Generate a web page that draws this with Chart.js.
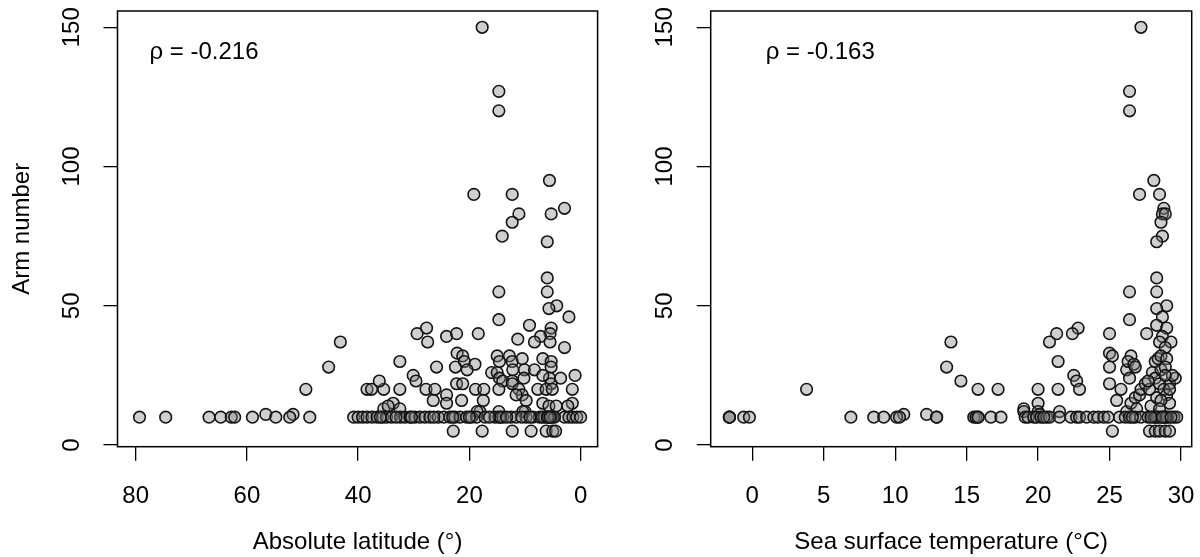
<!DOCTYPE html>
<html>
<head>
<meta charset="utf-8">
<script src="https://cdn.jsdelivr.net/npm/chart.js@4.4.1/dist/chart.umd.min.js"></script>
<style>
  body { margin: 0; background: #fff; }
  canvas { position: absolute; top: 0; }
  #latChart { left: 0; }
  #sstChart { left: 600px; }
</style>
</head>
<body>
<canvas id="latChart" width="605" height="557"></canvas>
<canvas id="sstChart" width="600" height="557"></canvas>
<script>
// --- DATA: left panel (absolute latitude vs arm number) ---
const latitude = [
  17.7, 14.7, 14.7, 5.6, 19.2, 12.3, 2.9, 11.1, 5.3, 12.3, 14.1, 6.0, 6.0, 6.0, 14.7, 4.3, 5.7, 14.7, 2.1, 9.2,
  27.7, 29.4, 24.1, 22.3, 18.4, 27.5, 5.3, 5.5, 7.2, 5.5, 11.3, 8.3, 2.9, 43.2, 45.3, 49.4, 22.2, 21.2, 20.9, 19.0,
  20.4, 22.5, 15.0, 14.6, 12.8, 12.3, 10.5, 16.0, 6.8, 5.3, 5.3, 32.5, 25.9, 30.1, 29.6, 22.3, 21.2, 15.0, 14.6, 14.0,
  12.2, 12.3, 12.3, 10.1, 8.3, 10.2, 5.6, 5.3, 3.6, 1.0, 6.8, 18.9, 17.4, 14.7, 11.1, 7.7, 6.2, 5.1, 1.5, 27.8,
  26.2, 32.5, 38.4, 37.6, 35.4, 36.2, 10.5, 11.6, 24.1, 26.5, 24.1, 21.4, 17.5, 9.8, 6.8, 5.7, 4.4, 1.5, 2.3, 33.7,
  35.4, 34.6, 32.5, 18.1, 14.7, 10.0, 18.6, 10.4, 56.6, 51.7,
  79.3, 74.6, 66.8, 64.7, 62.8, 62.2, 59.0, 54.8, 52.3, 48.7, 40.8, 40.0, 39.2, 38.4, 37.5, 36.6, 35.6, 34.9, 34.0, 32.4,
  31.6, 30.7, 29.8, 28.9, 28.0, 27.1, 25.6, 24.6, 23.5, 22.6, 21.7, 20.5, 19.6, 18.7, 17.2, 15.4, 14.7, 14.0, 12.5, 11.6,
  9.8, 8.6, 7.4, 6.5, 5.6, 5.0, 2.9, 2.1, 1.4, 0.7, 0.0, 14.4, 13.3, 10.6, 9.1, 6.9, 6.0, 5.3, 4.7, 33.2,
  30.4, 26.4, 23.0, 20.0, 16.4, 36.0, 5.9, 5.5,
  22.9, 17.7, 12.3, 8.9, 6.2, 5.0, 4.5
];
const armsLat = [
  150, 127, 120, 95, 90, 90, 85, 83, 83, 80, 75, 73, 60, 55, 55, 50, 49, 45, 46, 43,
  42, 40, 39, 40, 40, 37, 42, 40, 39, 37, 38, 37, 35, 37, 28, 20, 33, 32, 30, 29,
  27, 28, 32, 30, 32, 30, 31, 26, 31, 30, 28, 30, 28, 25, 23, 22, 22, 26, 24, 23,
  27, 23, 22, 27, 27, 24, 24, 22, 24, 25, 25, 20, 20, 20, 20, 20, 20, 20, 20, 20,
  20, 20, 20, 20, 20, 23, 18, 18, 18, 16, 15, 16, 16, 16, 15, 14, 14, 15, 14, 15,
  13, 14, 13, 12, 12, 12, 12, 12, 11, 11,
  10, 10, 10, 10, 10, 10, 10, 10, 10, 10, 10, 10, 10, 10, 10, 10, 10, 10, 10, 10,
  10, 10, 10, 10, 10, 10, 10, 10, 10, 10, 10, 10, 10, 10, 10, 10, 10, 10, 10, 10,
  10, 10, 10, 10, 10, 10, 10, 10, 10, 10, 10, 10, 10, 10, 10, 10, 10, 10, 10, 10,
  10, 10, 10, 10, 10, 10, 10, 10,
  5, 5, 5, 5, 5, 5, 5
];

// --- DATA: right panel (sea surface temperature vs arm number) ---
const sst = [
  27.2, 26.4, 26.4, 28.1, 27.1, 28.5, 28.8, 28.7, 28.9, 28.6, 28.7, 28.3, 28.3, 28.3, 26.4, 29.0, 28.3, 26.4, 28.7, 28.3,
  29.0, 27.6, 28.7, 28.5, 29.3, 28.9, 22.8, 22.4, 21.3, 20.8, 25.0, 13.9, 13.6, 14.6, 15.8, 17.2, 3.8, 21.4, 20.0, 21.4,
  20.0, 19.0, 22.5, 22.7, 22.9, 25.0, 25.2, 25.0, 25.0, 25.5, 25.8, 26.2, 26.5, 26.3, 26.7, 26.4, 26.8, 26.2, 26.5, 26.8,
  27.1, 27.2, 27.5, 26.9, 27.8, 28.0, 28.2, 28.4, 28.6, 29.0, 28.2, 28.6, 28.9, 29.2, 29.6, 29.4, 28.5, 28.8, 29.0, 29.2,
  27.9, 28.3, 28.6, 29.2, 27.7, 28.9, 28.5, 19.0, 20.0, 20.1, 21.5, 10.6, 12.2,
  -1.6, -1.6, -1.6, -0.6, -0.2, 6.9, 8.5, 9.2, 10.1, 10.3, 12.9, 12.9, 15.5, 15.65, 15.8, 15.8, 16.7, 17.4, 19.1, 19.3,
  19.7, 19.9, 20.2, 20.6, 20.8, 21.5, 22.3, 22.7, 22.9, 23.4, 23.9, 24.2, 24.6, 24.9, 25.7, 26.1, 26.4, 26.8, 27.2, 27.7,
  28.1, 28.4, 28.8, 29.1, 29.5, 29.7, 28.3, 28.6, 29.0, 28.9, 28.2, 27.9, 26.6, 20.4, 28.7, 29.3,
  27.8, 28.2, 28.5, 28.9, 29.2, 25.2
];
const armsSst = [
  150, 127, 120, 95, 90, 90, 85, 83, 83, 80, 75, 73, 60, 55, 55, 50, 49, 45, 46, 43,
  42, 40, 39, 37, 37, 35, 42, 40, 40, 37, 40, 37, 28, 23, 20, 20, 20, 30, 20, 20,
  15, 13, 25, 23, 20, 33, 32, 28, 22, 16, 20, 27, 32, 30, 29, 24, 28, 12, 15, 17,
  18, 20, 22, 13, 20, 26, 30, 31, 32, 31, 24, 27, 28, 22, 24, 25, 22, 20, 18, 15,
  14, 17, 16, 20, 23, 25, 13, 12, 12, 11, 12, 11, 11,
  10, 10, 10, 10, 10, 10, 10, 10, 10, 10, 10, 10, 10, 10, 10, 10, 10, 10, 10, 10,
  10, 10, 10, 10, 10, 10, 10, 10, 10, 10, 10, 10, 10, 10, 10, 10, 10, 10, 10, 10,
  10, 10, 10, 10, 10, 10, 10, 10, 10, 10, 10, 10, 10, 10, 10, 10,
  5, 5, 5, 5, 5, 5
];

// --- tick labels ---
const latTicks = [0, 20, 40, 60, 80];
const sstTicks = [0, 5, 10, 15, 20, 25, 30];
const armTicks = [0, 50, 100, 150];
const rhoText = ['ρ = -0.216', 'ρ = -0.163'];

const FONT = '"Liberation Sans", Arial, sans-serif';
Chart.defaults.font.family = FONT;
Chart.defaults.font.size = 24;
Chart.defaults.color = '#000';

// box round the plot area + the rho note
const boxPlugin = {
  id: 'rbox',
  afterDatasetsDraw(chart, args, opts) {
    const { ctx, chartArea: a } = chart;
    ctx.save();
    ctx.strokeStyle = '#000';
    ctx.lineWidth = 1.5;
    ctx.strokeRect(a.left, a.top, a.right - a.left, a.bottom - a.top);
    ctx.fillStyle = '#000';
    ctx.font = '24px ' + FONT;
    ctx.textBaseline = 'middle';
    ctx.fillText(opts.text, a.left + opts.dx, a.top + 41);
    ctx.restore();
  }
};

function makeChart(id, xs, ys, cfg) {
  const points = xs.map((x, i) => ({ x: x, y: ys[i] }));
  return new Chart(document.getElementById(id), {
    type: 'scatter',
    data: {
      datasets: [{
        data: points,
        pointRadius: 5.8,
        pointBorderWidth: 1.6,
        pointBackgroundColor: 'rgba(128,128,128,0.38)',
        pointBorderColor: '#141414',
        clip: false
      }]
    },
    options: {
      responsive: false,
      animation: false,
      events: [],
      layout: { padding: { left: 0, right: cfg.padRight, top: 11, bottom: 0 } },
      plugins: {
        legend: { display: false },
        tooltip: { enabled: false },
        rbox: { text: cfg.rho, dx: cfg.rhoDx }
      },
      scales: {
        x: {
          type: 'linear',
          min: cfg.xMin,
          max: cfg.xMax,
          reverse: cfg.reverse,
          afterBuildTicks: s => { s.ticks = cfg.xTicks.map(v => ({ value: v })); },
          afterFit: s => { s.height = 110.3; s.paddingLeft = 0; s.paddingRight = 0; },
          border: { display: false },
          grid: { drawOnChartArea: false, drawTicks: true, tickLength: 14, color: '#000', lineWidth: 1.3 },
          ticks: { minRotation: 0, maxRotation: 0, padding: 21, autoSkip: false },
          title: { display: true, text: cfg.xTitle, padding: { top: 0, bottom: 0 } }
        },
        y: {
          type: 'linear',
          min: -0.6,
          max: 155.85,
          afterBuildTicks: s => { s.ticks = armTicks.map(v => ({ value: v })); },
          afterFit: s => { s.width = cfg.yWidth; s.paddingTop = 0; s.paddingBottom = 0; },
          border: { display: false },
          grid: { drawOnChartArea: false, drawTicks: true, tickLength: 14, color: '#000', lineWidth: 1.3 },
          ticks: { minRotation: 90, maxRotation: 90, crossAlign: 'center', padding: 11, autoSkip: false },
          title: { display: cfg.yTitle, text: 'Arm number', padding: { top: 8, bottom: 0 } }
        }
      }
    },
    plugins: [boxPlugin]
  });
}

// left canvas is 605 wide so the "0" label overhang doesn't squeeze the box
makeChart('latChart', latitude, armsLat, {
  xMin: -3.05, xMax: 83.26, reverse: true, xTicks: latTicks,
  xTitle: 'Absolute latitude (°)', yTitle: true, yWidth: 117.5, padRight: 7,
  rho: rhoText[0], rhoDx: 32
});

makeChart('sstChart', sst, armsSst, {
  xMin: -2.91, xMax: 30.75, reverse: false, xTicks: sstTicks,
  xTitle: 'Sea surface temperature (°C)', yTitle: false, yWidth: 110.7, padRight: 8.3,
  rho: rhoText[1], rhoDx: 55
});
</script>
</body>
</html>
